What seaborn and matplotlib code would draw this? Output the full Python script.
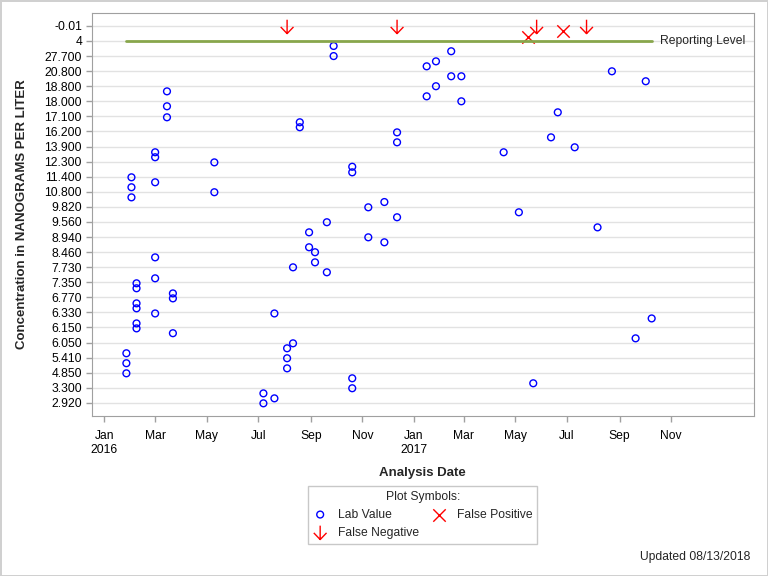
import matplotlib
matplotlib.use("Agg")
import matplotlib.pyplot as plt
from matplotlib.path import Path
import pandas as pd
import seaborn as sns

# y axis is categorical: reported values in plot order, top row first
conc_labels = ["-0.01", "4", "27.700", "20.800", "18.800", "18.000", "17.100",
               "16.200", "13.900", "12.300", "11.400", "10.800", "9.820", "9.560",
               "8.940", "8.460", "7.730", "7.350", "6.770", "6.330", "6.150",
               "6.050", "5.410", "4.850", "3.300", "2.920"]

# lab values (date, row position on the category axis, 0 = top row)
lab_dates = ["2016-01-27"] * 3 + ["2016-02-02"] * 3 + ["2016-02-08"] * 6 + \
            ["2016-03-01"] * 6 + ["2016-03-15"] * 3 + ["2016-03-22"] * 3 + \
            ["2016-05-10"] * 2 + ["2016-07-07"] * 2 + ["2016-07-20"] * 2 + \
            ["2016-08-04"] * 3 + ["2016-08-11"] * 2 + ["2016-08-19"] * 2 + \
            ["2016-08-30"] * 2 + ["2016-09-06"] * 2 + ["2016-09-20"] * 2 + \
            ["2016-09-28"] * 2 + ["2016-10-20"] * 4 + ["2016-11-08"] * 2 + \
            ["2016-11-27"] * 2 + ["2016-12-12"] * 3 + ["2017-01-16"] * 2 + \
            ["2017-01-27"] * 2 + ["2017-02-14"] * 2 + ["2017-02-26"] * 2 + \
            ["2017-04-17", "2017-05-05", "2017-05-22", "2017-06-12", "2017-06-20",
             "2017-07-10", "2017-08-06", "2017-08-23", "2017-09-20", "2017-10-02",
             "2017-10-09"]
lab_pos = [21.71, 22.37, 23.04,
           10.04, 10.70, 11.37,
           17.07, 17.40, 18.40, 18.73, 19.73, 20.06,
           8.38, 8.71, 10.37, 15.35, 16.74, 19.07,
           4.34, 5.33, 6.06,
           17.74, 18.07, 20.38,
           9.05, 11.03,
           24.37, 25.03,
           19.07, 24.70,
           21.38, 22.04, 22.71,
           16.01, 21.05,
           6.39, 6.72,
           13.69, 14.68,
           15.01, 15.68,
           13.02, 16.34,
           1.33, 2.00,
           9.34, 9.71, 23.37, 24.03,
           12.03, 14.02,
           11.68, 14.35,
           7.06, 7.72, 12.69,
           2.68, 4.67,
           2.35, 4.00,
           1.68, 3.34,
           3.34, 5.00,
           8.38, 12.36, 23.70, 7.39, 5.73, 8.05, 13.36, 3.01, 20.72, 3.67, 19.40]

fn_dates = ["2016-08-04", "2016-12-12", "2017-05-26", "2017-07-24"]
fn_pos = [0.05, 0.05, 0.05, 0.05]

fp_dates = ["2017-05-16", "2017-06-26"]
fp_pos = [0.72, 0.36]

reporting_pos = 1  # the "4" row

lab = pd.DataFrame({"date": pd.to_datetime(lab_dates), "pos": lab_pos})
fn = pd.DataFrame({"date": pd.to_datetime(fn_dates), "pos": fn_pos})
fp = pd.DataFrame({"date": pd.to_datetime(fp_dates), "pos": fp_pos})
rl = pd.DataFrame({"date": [lab["date"].min(), lab["date"].max()],
                   "pos": [reporting_pos, reporting_pos]})

sns.set_style("white")
plt.rcParams["font.family"] = ["Liberation Sans", "DejaVu Sans"]

fig = plt.figure(figsize=(7.68, 5.76), dpi=100)
fig.patch.set_edgecolor("#d0d0d0")
fig.patch.set_linewidth(2)
ax = fig.add_axes([0.1194, 0.2778, 0.8624, 0.6992])

# down arrow marker for false negatives
arrow = Path([(0, 0.5), (0, -0.5), (-0.46, -0.02), (0, -0.5), (0.46, -0.02)],
             [Path.MOVETO, Path.LINETO, Path.MOVETO, Path.LINETO, Path.LINETO])

sns.lineplot(data=rl, x="date", y="pos", ax=ax, color="#88a64c", lw=2, legend=False)
sns.scatterplot(data=lab, x="date", y="pos", ax=ax, marker="o", s=24, color="blue",
                facecolor="none", edgecolor="blue", linewidth=1, label="Lab Value")
sns.scatterplot(data=fn, x="date", y="pos", ax=ax, marker=arrow, s=100, color="red",
                facecolor="none", edgecolor="red", linewidth=1, label="False Negative")
sns.scatterplot(data=fp, x="date", y="pos", ax=ax, marker="x", s=80, color="red",
                linewidth=1, label="False Positive")

ax.annotate("Reporting Level", xy=(rl["date"].iloc[-1], reporting_pos), xytext=(6, 0),
            textcoords="offset points", va="center", ha="left", fontsize=8.7)

# axes
ax.set_yticks(range(len(conc_labels)))
ax.set_yticklabels(conc_labels)
ax.set_ylim(25.87, -0.84)
tick_dates = pd.date_range("2016-01-01", "2017-11-01", freq="2MS")
ax.set_xticks(tick_dates)
ax.set_xticklabels([d.strftime("%b") + ("\n%d" % d.year if d.month == 1 else "")
                    for d in tick_dates])
ax.set_xlim(pd.Timestamp("2015-12-17"), pd.Timestamp("2018-02-07"))

ax.grid(axis="y", color="#e2e2e2", lw=1)
ax.set_axisbelow(True)
for s in ax.spines.values():
    s.set_color("#a0a0a0")
ax.tick_params(axis="both", which="both", direction="out", color="#a0a0a0",
               length=4, width=1, labelsize=8.7, labelcolor="black", pad=3,
               left=True, bottom=True)
ax.tick_params(axis="x", pad=6)
ax.set_xlabel("Analysis Date", fontsize=9.5, fontweight="bold", labelpad=8)
ax.set_ylabel("Concentration in NANOGRAMS PER LITER", fontsize=9.5,
              fontweight="bold", labelpad=12)

h, l = ax.get_legend_handles_labels()
ax.get_legend().remove()
leg = fig.legend(h, l, title="Plot Symbols:", ncol=2, loc="upper center",
                 bbox_to_anchor=(0.5504, 0.167), fontsize=8.7, title_fontsize=8.7,
                 fancybox=False, edgecolor="#c8c8c8", framealpha=1,
                 handlelength=1.2, handletextpad=0.9, columnspacing=1.0,
                 labelspacing=0.5, borderpad=0.4)
leg.get_frame().set_linewidth(1)

fig.text(0.977, 0.033, "Updated 08/13/2018", ha="right", va="center", fontsize=8.7)

fig.savefig("out.png", dpi=100, edgecolor=fig.get_edgecolor())
